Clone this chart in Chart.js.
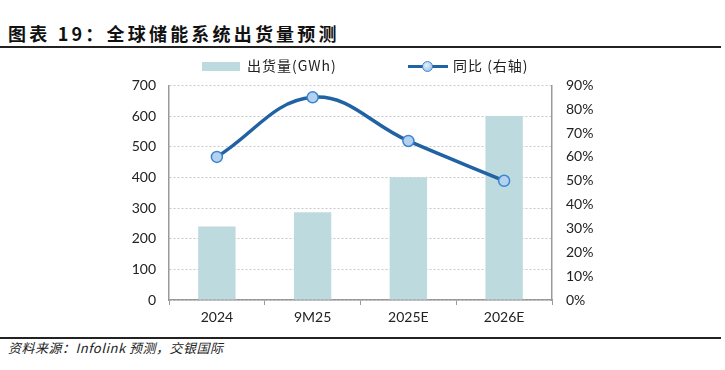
<!DOCTYPE html>
<html><head><meta charset="utf-8">
<script src="https://cdn.jsdelivr.net/npm/chart.js@4/dist/chart.umd.min.js"></script>
<style>
html,body{margin:0;padding:0;background:#fff;}
#wrap{position:relative;width:725px;height:370px;overflow:hidden;font-family:Lato,"Noto Sans CJK SC",sans-serif;}
#title{position:absolute;left:8px;top:20px;font-size:18px;font-weight:bold;letter-spacing:3.2px;color:#111;font-family:"Noto Sans CJK SC",sans-serif;line-height:26px;}
#tline{position:absolute;left:0;top:46px;width:721px;height:2px;background:#222;}
#bline{position:absolute;left:0;top:337px;width:721px;height:2px;background:#222;}
#src{position:absolute;left:8px;top:339px;font-size:13px;font-style:italic;color:#222;line-height:18px;letter-spacing:0.5px;font-family:"Noto Sans CJK SC",sans-serif;}
#legend{position:absolute;left:0;top:55px;width:725px;height:20px;font-size:14px;color:#222;font-family:"Noto Sans CJK SC",sans-serif;z-index:2;}
.sw{position:absolute;top:7px;left:202px;width:38px;height:9px;background:#BDDADE;}
.lt{position:absolute;top:0;line-height:20px;letter-spacing:1px;}
.ln{position:absolute;left:408px;top:10px;width:40px;height:3px;background:#2062A3;}
.pt{position:absolute;left:422px;top:6px;width:9px;height:9px;border-radius:50%;background:radial-gradient(circle at 40% 35%,#e6f0fb,#8db8e8);border:1.5px solid #3C85CF;}
#cv{position:absolute;left:0;top:63px;}
</style></head>
<body><div id="wrap">
<div id="title">图表 19：全球储能系统出货量预测</div>
<div id="tline"></div>
<canvas id="cv" width="725" height="272"></canvas>
<div id="legend">
<div class="sw"></div><div class="lt" style="left:247px">出货量(GWh)</div>
<div class="ln"></div><div class="pt"></div><div class="lt" style="left:453px">同比 (右轴)</div>
</div>
<div id="bline"></div>
<div id="src">资料来源：Infolink 预测，交银国际</div>
</div>
<script>
const categories = ["2024", "9M25", "2025E", "2026E"];
const shipments = [240, 286, 400, 600];
const yoy = [60, 85, 66.7, 50];
const leftTicks = [0, 100, 200, 300, 400, 500, 600, 700];
const rightTicks = [0, 10, 20, 30, 40, 50, 60, 70, 80, 90];

const ctx = document.getElementById('cv').getContext('2d');
const fontFam = 'Lato, "Noto Sans CJK SC", sans-serif';

new Chart(ctx, {
  type: 'bar',
  data: {
    labels: categories,
    datasets: [
      {
        type: 'line',
        label: '同比(右轴)',
        data: yoy,
        yAxisID: 'y1',
        borderColor: '#2062A3',
        borderWidth: 3.5,
        tension: 0.4,
        pointRadius: 5.5,
        pointBorderWidth: 1.5,
        pointBorderColor: '#3C85CF',
        pointBackgroundColor: '#B5D1F0',
        order: 0
      },
      {
        type: 'bar',
        label: '出货量(GWh)',
        data: shipments,
        yAxisID: 'y',
        backgroundColor: '#BDDADE',
        barPercentage: 0.39,
        categoryPercentage: 1.0,
        order: 1
      }
    ]
  },
  options: {
    responsive: false,
    animation: false,
    layout: { padding: 0 },
    plugins: { legend: { display: false }, tooltip: { enabled: false } },
    scales: {
      x: {
        grid: { display: true, drawOnChartArea: false, color: '#999', tickLength: 5, offset: true },
        border: { display: true, color: '#999', width: 1.5 },
        ticks: { color: '#222', font: { family: fontFam, size: 14 }, padding: 4 },
        afterFit: (s) => { s.height = 35; }
      },
      y: {
        position: 'left',
        min: 0, max: 700,
        afterBuildTicks: (s) => { s.ticks = leftTicks.map(v => ({ value: v })); },
        grid: { color: '#c8c8c8', drawTicks: false, lineWidth: 1 },
        border: { display: true, color: '#999', width: 1.5, dash: [2, 2] },
        ticks: { color: '#222', font: { family: fontFam, size: 14 }, padding: 13 },
        afterFit: (s) => { s.width = 169; }
      },
      y1: {
        position: 'right',
        min: 0, max: 90,
        afterBuildTicks: (s) => { s.ticks = rightTicks.map(v => ({ value: v })); },
        grid: { drawOnChartArea: false, drawTicks: false },
        border: { display: true, color: '#999', width: 1.5 },
        ticks: { color: '#222', font: { family: fontFam, size: 14 }, padding: 14, callback: (v) => v + '%' },
        afterFit: (s) => { s.width = 173; }
      }
    }
  }
});
</script>
</body></html>
